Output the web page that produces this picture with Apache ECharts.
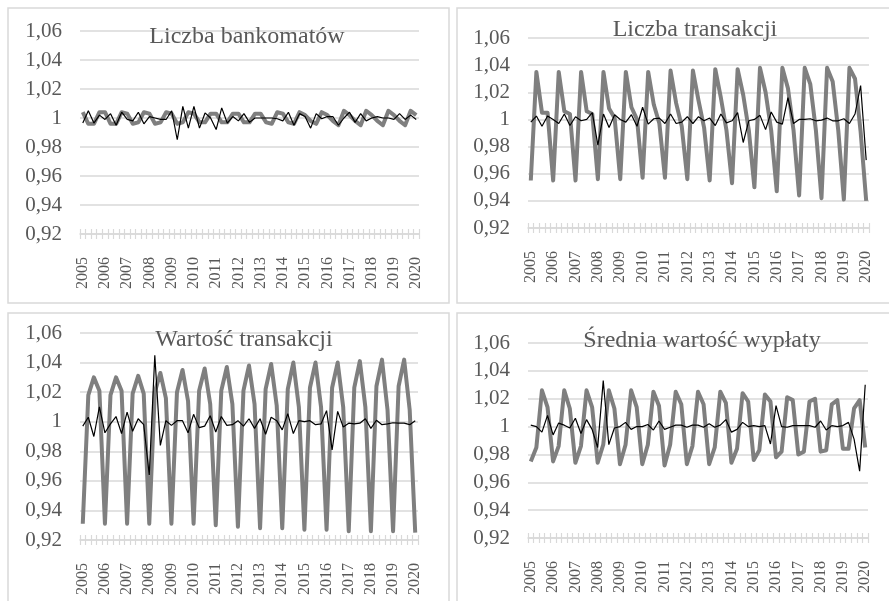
<!DOCTYPE html>
<html><head><meta charset="utf-8">
<script src="https://cdn.jsdelivr.net/npm/echarts@6/dist/echarts.min.js"></script>
<style>html,body{margin:0;padding:0;background:#fff}#c{width:889px;height:601px}</style>
</head><body><div id="c"></div>
<script>
const years = ['2005','2006','2007','2008','2009','2010','2011','2012','2013','2014','2015','2016','2017','2018','2019','2020'];
const titles = ['Liczba bankomatów','Liczba transakcji','Wartość transakcji','Średnia wartość wypłaty'];

// Liczba bankomatów
const seasBankomaty = [
1.004,0.996,0.996,1.004, 1.004,0.996,0.996,1.004, 1.003,0.996,0.997,1.004, 1.003,0.996,0.997,1.004,
1.003,0.996,0.997,1.004, 1.003,0.997,0.997,1.003, 1.003,0.997,0.997,1.003, 1.003,0.997,0.997,1.003,
1.003,0.997,0.996,1.004, 1.003,0.997,0.996,1.004, 1.002,0.998,0.996,1.004, 1.002,0.998,0.995,1.005,
1.002,0.998,0.995,1.005, 1.002,0.998,0.995,1.005, 1.002,0.998,0.995,1.005, 1.002];
const irrBankomaty = [
0.9965,1.005,0.9965,1.002, 0.999,1.003,0.995,1.004, 0.999,0.998,1.004,0.996, 1.001,1.000,0.999,0.999,
1.005,0.985,1.008,0.993, 1.008,0.993,1.0035,1.000, 0.992,1.007,0.9965,1.001, 0.998,1.003,0.997,1.000,
1.000,1.000,1.000,0.9995, 0.998,1.004,0.995,1.003, 1.001,0.993,1.003,0.9995, 1.001,1.001,0.995,1.000,
1.004,0.997,1.003,0.998, 1.000,1.001,1.000,1.000, 0.999,1.003,0.999,1.002, 0.999];

// Liczba transakcji
const seasTransakcje = [
0.955,1.035,1.005,1.005, 0.955,1.035,1.006,1.004, 0.955,1.035,1.006,1.004, 0.956,1.035,1.008,1.001,
0.956,1.035,1.009,1.000, 0.957,1.035,1.011,0.997, 0.957,1.036,1.012,0.995, 0.956,1.036,1.014,0.994,
0.955,1.037,1.016,0.992, 0.953,1.037,1.018,0.992, 0.950,1.038,1.020,0.992, 0.947,1.038,1.023,0.992,
0.944,1.038,1.026,0.992, 0.942,1.038,1.028,0.992, 0.941,1.038,1.030,0.991, 0.940];
const irrTransakcje = [
0.998,1.0025,0.995,1.0025, 1.000,0.997,1.004,0.9955, 1.002,0.999,1.000,1.005, 0.981,1.004,0.994,1.0035,
1.000,0.998,1.0035,0.995, 1.009,0.9965,1.0005,1.001, 0.997,1.004,0.997,0.998, 1.002,0.997,1.002,0.999,
1.001,0.9955,1.004,0.9975, 0.999,1.005,0.983,0.999, 1.000,1.003,0.9925,1.0055, 0.998,0.9965,1.016,0.997,
1.000,1.000,1.0005,0.999, 0.9995,1.001,0.999,0.999, 1.0005,0.997,1.004,1.025, 0.970];

// Wartość transakcji
const seasWartosc = [
0.931,1.018,1.030,1.021, 0.931,1.018,1.030,1.021, 0.931,1.019,1.031,1.019, 0.931,1.020,1.033,1.016,
0.931,1.020,1.035,1.014, 0.931,1.021,1.036,1.012, 0.930,1.021,1.037,1.012, 0.929,1.021,1.038,1.012,
0.928,1.022,1.039,1.011, 0.928,1.022,1.040,1.010, 0.927,1.023,1.040,1.010, 0.927,1.023,1.040,1.010,
0.926,1.023,1.041,1.010, 0.926,1.024,1.042,1.008, 0.926,1.024,1.042,1.008, 0.925];
const irrWartosc = [
0.997,1.003,0.990,1.010, 0.9925,0.9985,1.0035,0.992, 1.0065,0.9935,1.002,0.998, 0.964,1.045,0.984,1.0007,
0.9975,1.0007,1.0007,0.9925, 1.005,0.996,0.997,1.004, 0.993,1.0035,0.9975,0.998, 1.0007,0.997,1.002,0.9955,
1.002,0.9915,1.003,1.0007, 0.9945,1.0055,0.992,1.0007, 1.000,1.0007,0.998,0.9985, 1.0075,0.981,1.007,0.9965,
0.999,0.9985,0.999,1.002, 0.9955,1.001,0.998,0.9985, 0.9993,0.999,0.999,0.998, 1.0007];

// Średnia wartość wypłaty
const seasWyplata = [
0.975,0.985,1.026,1.014, 0.975,0.986,1.026,1.013, 0.974,0.986,1.026,1.014, 0.974,0.987,1.026,1.013,
0.973,0.987,1.026,1.014, 0.973,0.987,1.025,1.015, 0.972,0.987,1.025,1.016, 0.973,0.986,1.025,1.016,
0.973,0.985,1.025,1.017, 0.974,0.984,1.024,1.018, 0.976,0.983,1.023,1.018, 0.978,0.982,1.021,1.019,
0.980,0.982,1.018,1.020, 0.982,0.983,1.016,1.019, 0.984,0.984,1.013,1.019, 0.985];
const irrWyplata = [
1.001,1.000,0.996,1.008, 0.994,1.0025,1.001,0.999, 1.006,0.995,1.005,0.998, 0.985,1.033,0.987,0.999,
1.000,1.003,0.998,1.000, 1.000,1.0015,0.9975,1.004, 0.998,0.9995,1.001,1.001, 0.9995,1.001,1.001,0.9995,
1.002,0.9995,1.001,1.005, 0.996,0.998,1.003,1.000, 1.0007,1.000,1.0007,0.9875, 1.015,1.000,0.9995,1.0007,
1.0007,1.0007,1.0007,0.9995, 1.004,0.9975,1.0007,1.000, 1.0007,1.003,0.991,0.968, 1.030];

const seasonal = [seasBankomaty, seasTransakcje, seasWartosc, seasWyplata];
const irregular = [irrBankomaty, irrTransakcje, irrWartosc, irrWyplata];

const categories = [];
years.forEach(y => ['I','II','III','IV'].forEach(q => categories.push(q + ' ' + y)));
categories.length = 61;

const grids = [
  {left: 80, top: 31, width: 339, height: 203},
  {left: 528, top: 38, width: 341, height: 190},
  {left: 80, top: 333, width: 338, height: 207},
  {left: 528, top: 343, width: 340, height: 195}
];
const titlePos = [[247, 37], [695, 30], [244, 340], [702, 341]];
const FONT = "'Liberation Serif', 'Times New Roman', serif";
const AX = '#d9d9d9';
const TXT = '#595959';

const xAxes = [], yAxes = [], series = [];
grids.forEach((g, i) => {
  xAxes.push({
    type: 'category', gridIndex: i, data: categories, boundaryGap: true,
    axisLine: {show: true, lineStyle: {color: AX, width: 1.5}},
    axisTick: {show: true, interval: 0, length: 5, lineStyle: {color: AX, width: 1.2}},
    axisLabel: {interval: 3, rotate: 90, margin: 23, fontSize: 16, color: TXT, fontFamily: FONT,
      formatter: v => v.split(' ')[1]},
    splitLine: {show: false}
  });
});
grids.forEach((g, i) => {
  xAxes.push({
    type: 'category', gridIndex: i, data: categories, boundaryGap: true, position: 'bottom',
    axisLine: {show: false},
    axisTick: {show: true, inside: true, interval: 0, length: 5, lineStyle: {color: AX, width: 1.2}},
    axisLabel: {show: false}, splitLine: {show: false}
  });
  yAxes.push({
    type: 'value', gridIndex: i, min: 0.92, max: 1.06, interval: 0.02,
    axisLine: {show: false}, axisTick: {show: false},
    splitLine: {show: true, lineStyle: {color: AX, width: 1.5}},
    axisLabel: {fontSize: 21, color: TXT, fontFamily: FONT, margin: 18,
      formatter: v => Math.abs(v - 1) < 1e-9 ? '1' : v.toFixed(2).replace('.', ',')}
  });
  series.push({
    type: 'line', xAxisIndex: i, yAxisIndex: i, data: seasonal[i], symbol: 'none',
    lineStyle: {color: '#7f7f7f', width: 4, join: 'round'}, z: 2
  });
  series.push({
    type: 'line', xAxisIndex: i, yAxisIndex: i, data: irregular[i], symbol: 'none',
    lineStyle: {color: '#000000', width: 1.2}, z: 3
  });
});

const graphic = [
  {type: 'rect', shape: {x: 8, y: 8, width: 441, height: 295}, style: {fill: 'none', stroke: AX, lineWidth: 1.5}, z: 0},
  {type: 'rect', shape: {x: 457, y: 8, width: 445, height: 295}, style: {fill: 'none', stroke: AX, lineWidth: 1.5}, z: 0},
  {type: 'rect', shape: {x: 8, y: 313, width: 441, height: 300}, style: {fill: 'none', stroke: AX, lineWidth: 1.5}, z: 0},
  {type: 'rect', shape: {x: 457, y: 313, width: 445, height: 300}, style: {fill: 'none', stroke: AX, lineWidth: 1.5}, z: 0}
];
titles.forEach((t, i) => {
  graphic.push({type: 'text', z: 100, style: {text: t, x: titlePos[i][0], y: titlePos[i][1],
    align: 'center', verticalAlign: 'middle', fontSize: 24, fontFamily: FONT, fill: TXT}});
});

const chart = echarts.init(document.getElementById('c'));
chart.setOption({
  animation: false,
  backgroundColor: '#ffffff',
  grid: grids,
  xAxis: xAxes,
  yAxis: yAxes,
  series: series,
  graphic: graphic
});
</script>
</body></html>
